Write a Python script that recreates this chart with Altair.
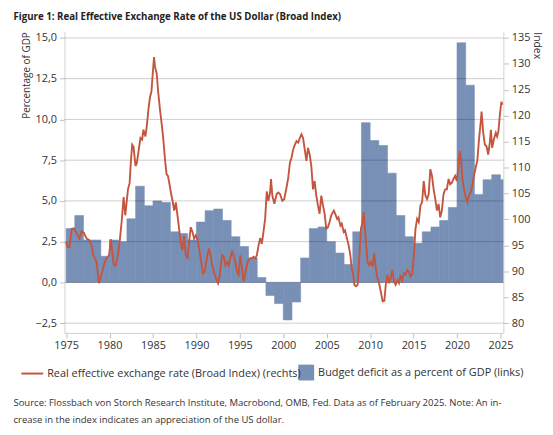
import altair as alt
import pandas as pd

FONT = "Open Sans"
TEXT = "#333333"
BAR = "#7890b6"

# ---------------- data ----------------
bar_years = list(range(1975, 2026))
deficit = [3.3, 4.1, 2.6, 2.6, 1.6, 2.6, 2.5, 3.9, 5.9, 4.7,
           5.0, 4.9, 3.1, 3.0, 2.6, 3.7, 4.4, 4.5, 3.8, 2.8,
           2.2, 1.5, 0.3, -0.8, -1.3, -2.3, -1.2, 1.5, 3.3, 3.4,
           2.5, 1.8, 1.1, 3.1, 9.8, 8.7, 8.4, 6.7, 4.1, 2.8,
           2.4, 3.1, 3.4, 3.8, 4.6, 14.7, 12.1, 5.4, 6.3, 6.6,
           6.3]

reer_points = [
    (1975.00, 95.7), (1975.15, 94.7), (1975.38, 94.6), (1975.65, 98.2), (1975.91, 98.3),
    (1976.22, 97.3), (1976.52, 96.3), (1976.79, 97.7), (1977.05, 97.4), (1977.36, 96.3),
    (1977.66, 96.0), (1977.93, 95.0), (1978.12, 93.1), (1978.31, 92.5), (1978.50, 91.8),
    (1978.77, 87.7), (1979.00, 89.0), (1979.26, 90.6), (1979.45, 91.8), (1979.64, 92.5),
    (1979.95, 93.1), (1980.14, 96.2), (1980.29, 94.1), (1980.48, 91.2), (1980.71, 91.1),
    (1980.97, 93.1), (1981.16, 95.7), (1981.39, 99.5), (1981.62, 104.3), (1981.81, 100.8),
    (1982.12, 105.8), (1982.31, 107.0), (1982.46, 111.3), (1982.61, 114.4), (1982.76, 114.0),
    (1982.99, 110.3), (1983.14, 110.9), (1983.37, 113.5), (1983.56, 115.7), (1983.75, 115.4),
    (1983.90, 117.3), (1984.13, 116.0), (1984.28, 117.9), (1984.51, 121.8), (1984.67, 123.7),
    (1984.82, 124.6), (1984.97, 128.1), (1985.12, 131.3), (1985.24, 129.4), (1985.43, 128.1),
    (1985.58, 124.9), (1985.81, 121.1), (1986.04, 117.9), (1986.19, 115.4), (1986.42, 110.9),
    (1986.57, 108.7), (1986.72, 108.4), (1986.87, 107.1), (1987.06, 105.2), (1987.25, 103.6),
    (1987.44, 101.7), (1987.63, 103.3), (1987.82, 100.8), (1988.01, 98.2), (1988.20, 95.3),
    (1988.39, 94.1), (1988.58, 96.9), (1988.77, 93.1), (1988.97, 92.6), (1989.16, 95.7),
    (1989.35, 98.5), (1989.54, 97.6), (1989.73, 96.3), (1989.92, 96.9), (1990.11, 96.2),
    (1990.30, 94.4), (1990.56, 91.8), (1990.75, 89.6), (1990.94, 89.9), (1991.06, 90.9),
    (1991.25, 93.1), (1991.44, 94.4), (1991.63, 93.1), (1991.82, 91.2), (1992.01, 89.9),
    (1992.28, 88.5), (1992.50, 87.7), (1992.69, 89.3), (1992.96, 93.1), (1993.15, 92.8),
    (1993.34, 91.2), (1993.53, 91.8), (1993.72, 91.1), (1993.91, 92.5), (1994.10, 93.8),
    (1994.29, 93.1), (1994.48, 91.8), (1994.67, 89.9), (1994.86, 89.3), (1995.05, 93.1),
    (1995.24, 90.6), (1995.43, 88.0), (1995.62, 89.6), (1995.81, 91.2), (1996.00, 92.2),
    (1996.19, 92.5), (1996.38, 92.5), (1996.58, 92.8), (1996.77, 92.5), (1996.96, 93.1),
    (1997.15, 95.0), (1997.34, 96.4), (1997.53, 95.3), (1997.72, 97.6), (1997.91, 100.1),
    (1998.10, 105.4), (1998.29, 103.6), (1998.48, 105.2), (1998.59, 107.8), (1998.74, 104.6),
    (1998.97, 103.0), (1999.24, 104.9), (1999.43, 105.2), (1999.62, 104.9), (1999.89, 103.6),
    (2000.11, 103.9), (2000.38, 106.2), (2000.57, 108.0), (2000.76, 110.9), (2000.95, 111.9),
    (2001.14, 113.5), (2001.33, 114.4), (2001.52, 115.1), (2001.71, 114.8), (2001.90, 115.7),
    (2002.09, 116.4), (2002.28, 115.7), (2002.47, 113.5), (2002.66, 111.3), (2002.85, 113.8),
    (2003.04, 112.5), (2003.23, 110.3), (2003.42, 105.8), (2003.61, 107.4), (2003.80, 104.6),
    (2003.99, 102.7), (2004.18, 101.1), (2004.38, 104.6), (2004.57, 102.7), (2004.76, 101.1),
    (2004.95, 98.2), (2005.14, 98.5), (2005.33, 99.5), (2005.52, 100.8), (2005.82, 101.7),
    (2005.97, 101.1), (2006.20, 100.1), (2006.35, 100.4), (2006.58, 98.8), (2006.73, 99.2),
    (2006.96, 97.6), (2007.11, 97.9), (2007.34, 96.3), (2007.53, 95.0), (2007.72, 93.1),
    (2007.88, 90.6), (2008.03, 89.6), (2008.18, 87.4), (2008.37, 87.1), (2008.56, 87.4),
    (2008.75, 92.5), (2008.94, 98.2), (2009.13, 99.5), (2009.25, 101.4), (2009.40, 98.2),
    (2009.55, 95.0), (2009.70, 91.8), (2009.89, 91.2), (2010.08, 91.8), (2010.27, 90.9),
    (2010.46, 93.4), (2010.65, 90.6), (2010.84, 88.7), (2011.03, 87.7), (2011.22, 86.1),
    (2011.45, 84.2), (2011.64, 84.3), (2011.80, 87.4), (2011.99, 89.3), (2012.18, 87.7),
    (2012.37, 88.7), (2012.56, 90.2), (2012.75, 88.0), (2012.94, 87.4), (2013.13, 88.3),
    (2013.32, 87.7), (2013.51, 89.3), (2013.70, 88.3), (2013.89, 89.6), (2014.08, 89.3),
    (2014.27, 90.2), (2014.46, 89.9), (2014.65, 89.0), (2014.84, 89.3), (2015.03, 93.1),
    (2015.22, 98.2), (2015.41, 100.1), (2015.60, 99.5), (2015.79, 102.7), (2015.98, 103.3),
    (2016.17, 107.4), (2016.36, 104.6), (2016.55, 103.9), (2016.74, 104.9), (2016.93, 109.7),
    (2017.12, 108.4), (2017.31, 105.8), (2017.50, 103.9), (2017.69, 101.7), (2017.88, 103.0),
    (2018.07, 100.4), (2018.26, 101.7), (2018.45, 104.9), (2018.64, 105.8), (2018.83, 105.8),
    (2019.03, 107.8), (2019.22, 106.8), (2019.41, 107.1), (2019.60, 107.8), (2019.79, 108.4),
    (2019.98, 107.4), (2020.17, 110.3), (2020.32, 113.2), (2020.47, 111.6), (2020.62, 107.8),
    (2020.81, 105.8), (2021.00, 104.3), (2021.19, 103.3), (2021.38, 104.6), (2021.57, 105.2),
    (2021.76, 106.5), (2021.95, 108.4), (2022.15, 110.0), (2022.34, 111.3), (2022.53, 115.4),
    (2022.72, 118.6), (2022.83, 120.8), (2023.02, 116.7), (2023.21, 114.4), (2023.40, 114.1),
    (2023.59, 112.5), (2023.78, 114.8), (2023.90, 117.3), (2024.05, 113.8), (2024.24, 115.4),
    (2024.47, 116.7), (2024.62, 116.0), (2024.77, 117.0), (2024.92, 119.9), (2025.11, 122.7),
    (2025.23, 122.1),
]

left_ticks = [-2.5, 0.0, 2.5, 5.0, 7.5, 10.0, 12.5, 15.0]
right_ticks = [80, 85, 90, 95, 100, 105, 110, 115, 120, 125, 130, 135]
x_ticks = [1975, 1980, 1985, 1990, 1995, 2000, 2005, 2010, 2015, 2020, 2025]

title_text = "Figure 1: Real Effective Exchange Rate of the US Dollar (Broad Index)"
line_label = "Real effective exchange rate (Broad Index) (rechts)"
bar_label = "Budget deficit as a percent of GDP (links)"
footer_text = ("Source: Flossbach von Storch Research Institute, Macrobond, OMB, Fed. Data as of February 2025. Note: An in-\n"
               "crease in the index indicates an appreciation of the US dollar.")

# ---------------- frames ----------------
bars_df = pd.DataFrame({"year": bar_years, "year_end": [y + 1 for y in bar_years],
                        "deficit": deficit, "series": bar_label})
line_df = pd.DataFrame({"t": [p[0] for p in reer_points], "reer": [p[1] for p in reer_points],
                        "series": line_label})
grid_df = pd.DataFrame({"deficit": left_ticks})
foot_df = pd.DataFrame({"txt": [footer_text]})

LEFT_DOMAIN = [-3.10, 15.38]
RIGHT_DOMAIN = [80 + (LEFT_DOMAIN[0] + 2.5) * 55 / 17.5, 80 + (LEFT_DOMAIN[1] + 2.5) * 55 / 17.5]
X_DOMAIN = [1974.81, 2025.34]

xscale = alt.Scale(domain=X_DOMAIN, nice=False, zero=False)
xaxis = alt.Axis(values=x_ticks, format="d", title=None, grid=False, tickSize=5,
                 labelPadding=2, labelFlush=False, labelOverlap=False)
lscale = alt.Scale(domain=LEFT_DOMAIN, nice=False, zero=False)
laxis = alt.Axis(orient="left", values=left_ticks,
                 labelExpr="replace(format(datum.value, '.1f'), '.', ',')",
                 title="Percentage of GDP", titleAnchor="end", titleFontSize=10,
                 titleFontWeight="normal", titlePadding=4, tickSize=5,
                 labelPadding=3, grid=False)

bars = alt.Chart(bars_df).mark_rect(clip=True, stroke=BAR, strokeWidth=0.6).encode(
    x=alt.X("year:Q", scale=xscale, axis=xaxis),
    x2="year_end:Q",
    y=alt.Y("deficit:Q", scale=lscale, axis=laxis),
    y2=alt.datum(0),
    fill=alt.Fill("series:N", scale=alt.Scale(range=[BAR]),
                  legend=alt.Legend(orient="none", legendX=236, legendY=336, title=None,
                                    symbolType="square", symbolSize=256, symbolStrokeWidth=0,
                                    labelFontSize=11, labelOffset=4, labelLimit=400,
                                    padding=0)),
)

grid = alt.Chart(grid_df).mark_rule(color="#000000", opacity=0.2, strokeWidth=1).encode(
    y=alt.Y("deficit:Q", scale=lscale, axis=laxis)
)

line = alt.Chart(line_df).mark_line(strokeWidth=1.9, clip=True).encode(
    x=alt.X("t:Q", scale=xscale, axis=xaxis),
    y=alt.Y("reer:Q", scale=alt.Scale(domain=RIGHT_DOMAIN, nice=False, zero=False),
            axis=alt.Axis(orient="right", values=right_ticks, format="d", title="Index",
                          titleAnchor="end", titleAngle=90, titleAlign="left",
                          titleFontSize=10.5, titleFontWeight="normal", titlePadding=2,
                          tickSize=5, labelPadding=3, grid=False)),
    color=alt.Color("series:N", scale=alt.Scale(range=["#c4553e"]),
                    legend=alt.Legend(orient="none", legendX=-44.5, legendY=333, title=None,
                                      symbolType="stroke", symbolSize=484, symbolStrokeWidth=2,
                                      labelFontSize=11, labelOffset=3, labelLimit=400,
                                      padding=0)),
)

footer = alt.Chart(foot_df).mark_text(
    align="left", baseline="top", lineBreak="\n", lineHeight=17, fontSize=9.6,
    font=FONT, color=TEXT
).encode(text="txt:N", x=alt.value(-51.5), y=alt.value(370))

chart = alt.layer(
    alt.layer(bars, grid), line, footer
).resolve_scale(y="independent", color="independent").properties(
    width=443, height=304,
    padding={"left": 5, "top": 2, "right": 3, "bottom": 0},
    title=alt.TitleParams(title_text, anchor="start", fontSize=9.8, fontWeight="bold",
                          font=FONT, color="#222222", offset=10),
).configure_view(stroke=None).configure_axis(
    labelFont=FONT, titleFont=FONT, labelFontSize=11, labelColor=TEXT, titleColor=TEXT,
    domainColor="#d0d0d0", tickColor="#c0c0c0",
).configure_legend(
    labelFont=FONT, labelColor=TEXT
)

chart.save("out.html", embed_options={"renderer": "svg", "actions": False})
